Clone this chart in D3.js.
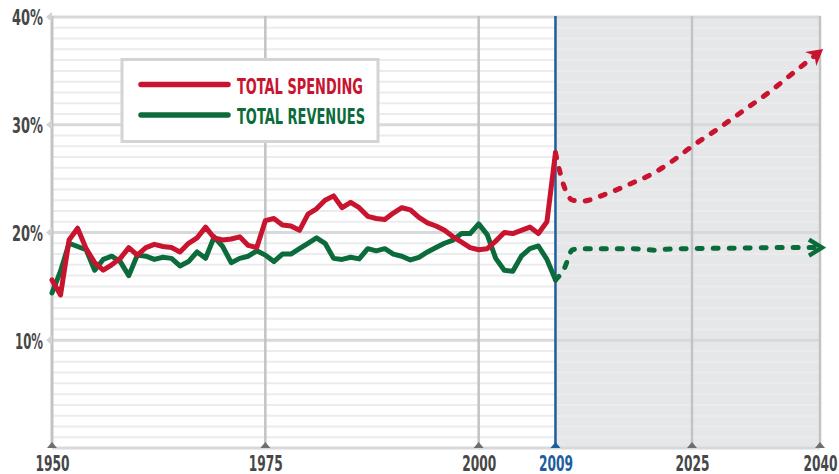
<!DOCTYPE html>
<html>
<head>
<meta charset="utf-8">
<script src="https://cdn.jsdelivr.net/npm/d3@7/dist/d3.min.js"></script>
<style>
  html, body { margin: 0; padding: 0; background: #fff; }
  svg { display: block; }
  text { font-family: "DejaVu Sans Condensed", "Liberation Sans Narrow", "Roboto", sans-serif; font-weight: bold; }
</style>
</head>
<body>
<svg id="chart" width="839" height="474"></svg>
<script>
// ---------------- DATA ----------------
const histYears = [1950,1951,1952,1953,1954,1955,1956,1957,1958,1959,
  1960,1961,1962,1963,1964,1965,1966,1967,1968,1969,
  1970,1971,1972,1973,1974,1975,1976,1977,1978,1979,
  1980,1981,1982,1983,1984,1985,1986,1987,1988,1989,
  1990,1991,1992,1993,1994,1995,1996,1997,1998,1999,
  2000,2001,2002,2003,2004,2005,2006,2007,2008,2009];
const spending = [15.6,14.2,19.3,20.4,18.5,17.2,16.5,17.0,17.6,18.6,
  17.9,18.6,18.9,18.7,18.6,18.2,19.0,19.5,20.5,19.5,
  19.3,19.4,19.6,18.8,18.6,21.1,21.3,20.7,20.6,20.2,
  21.7,22.2,23.0,23.4,22.3,22.8,22.3,21.5,21.3,21.2,
  21.8,22.3,22.1,21.4,20.9,20.6,20.2,19.6,19.1,18.6,
  18.4,18.5,19.2,20.0,19.9,20.2,20.5,19.9,21.0,27.4];
const revenues = [14.4,16.4,19.0,18.7,18.4,16.5,17.5,17.8,17.3,16.0,
  17.9,17.8,17.5,17.7,17.6,16.9,17.3,18.2,17.6,19.6,
  18.7,17.2,17.6,17.8,18.3,17.9,17.3,18.0,18.0,18.5,
  19.0,19.5,19.0,17.6,17.5,17.7,17.55,18.5,18.3,18.5,
  18.0,17.8,17.45,17.7,18.2,18.6,19.0,19.3,19.9,19.9,
  20.8,19.8,17.6,16.5,16.4,17.8,18.5,18.75,17.5,15.6];

const projSpendYears = [2009,2010,2011,2012,2015,2018,2020,2023,2025,2028,2031,2034,2037,2040];
const projSpending   = [27.4,24.3,23.0,22.9,23.6,24.6,25.3,26.8,28.0,29.6,31.3,33.0,34.9,36.8];
const projRevYears   = [2009,2010,2011,2012,2015,2018,2021,2022,2025,2030,2035,2040];
const projRevenues   = [15.6,16.6,18.4,18.5,18.5,18.5,18.35,18.45,18.5,18.55,18.6,18.6];

const yTicks = [10,20,30,40];
const xTicks = [1950,1975,2000,2009,2025,2040];
const minorTicks = [1,2,3,4,5,6,7,8,9,11,12,13,14,15,16,17,18,19,21,22,23,24,25,26,27,28,29,31,32,33,34,35,36,37,38,39];
const legendItems = ["TOTAL SPENDING","TOTAL REVENUES"];
const baseYear = 2009;

// ---------------- STYLE ----------------
const RED = "#c8142f", GREEN = "#0b6b3a", BLUE = "#1d5e9c";
const TXT = "#474747";

const svg = d3.select("#chart");
const x = d3.scaleLinear().domain([1950, 2040]).range([52, 820]);
const y = d3.scaleLinear().domain([0, 40]).range([448, 17]);

// shaded projection region
svg.append("rect")
  .attr("x", x(baseYear)).attr("y", y(40) - 1)
  .attr("width", x(2040) - x(baseYear)).attr("height", y(0) - y(40) + 1)
  .attr("fill", "#e6e7e9");

// minor horizontal grid
svg.append("g").selectAll("line").data(minorTicks).join("line")
  .attr("x1", x(1950)).attr("x2", x(2040))
  .attr("y1", d => y(d)).attr("y2", d => y(d))
  .attr("stroke", "#ececee").attr("stroke-width", 2);

// major horizontal grid
svg.append("g").selectAll("line").data([0].concat(yTicks)).join("line")
  .attr("x1", x(1950)).attr("x2", x(2040))
  .attr("y1", d => y(d)).attr("y2", d => y(d))
  .attr("stroke", "#d8d9db").attr("stroke-width", 3);

// vertical grid lines
svg.append("g").selectAll("line").data(xTicks.filter(d => d !== baseYear)).join("line")
  .attr("x1", d => x(d)).attr("x2", d => x(d))
  .attr("y1", y(40) - 1).attr("y2", y(0))
  .attr("stroke", "#c2c3c5").attr("stroke-width", d => d === 1950 ? 3 : 2.5);

// 2009 marker line
svg.append("line")
  .attr("x1", x(baseYear)).attr("x2", x(baseYear))
  .attr("y1", y(40) - 1).attr("y2", y(0))
  .attr("stroke", BLUE).attr("stroke-width", 2.5);

// y-axis labels
const yAxis = d3.axisLeft(y).tickValues(yTicks).tickFormat(d => d + "%").tickSize(0).tickPadding(9);
const gy = svg.append("g").attr("transform", `translate(${x(1950)},0)`).call(yAxis);
gy.select(".domain").remove();
gy.selectAll("text")
  .attr("fill", TXT).attr("font-size", 22).attr("dy", "0.36em")
  .style("font-family", null).style("font-weight", null)
  .attr("font-family", null)
  .attr("textLength", d => d === 10 ? 28 : 31).attr("lengthAdjust", "spacingAndGlyphs");
// y pointers
svg.append("g").selectAll("path").data(yTicks).join("path")
  .attr("d", d => `M${x(1950) - 6},${y(d)} L${x(1950)},${y(d) - 5} L${x(1950)},${y(d) + 5} Z`)
  .attr("fill", "#d2d3d5");

// x-axis labels
const xAxis = d3.axisBottom(x).tickValues(xTicks).tickFormat(d3.format("d")).tickSize(0).tickPadding(7);
const gx = svg.append("g").attr("transform", `translate(0,${y(0)})`).call(xAxis);
gx.select(".domain").remove();
gx.selectAll("text")
  .attr("fill", d => d === baseYear ? BLUE : TXT).attr("font-size", 22).attr("dy", "0.71em")
  .attr("font-family", null)
  .attr("textLength", 34).attr("lengthAdjust", "spacingAndGlyphs");
gy.attr("font-family", null); gx.attr("font-family", null);
// x pointers
svg.append("g").selectAll("path").data(xTicks).join("path")
  .attr("d", d => `M${x(d) - 5},${y(0)} L${x(d)},${y(0) - 6} L${x(d) + 5},${y(0)} Z`)
  .attr("fill", d => d === baseYear ? BLUE : "#6d6e70");

// arrow markers
const defs = svg.append("defs");
defs.append("marker").attr("id", "arrRed")
  .attr("markerUnits", "userSpaceOnUse").attr("orient", "auto")
  .attr("viewBox", "-14 -10 20 20").attr("markerWidth", 20).attr("markerHeight", 20)
  .attr("refX", 0).attr("refY", 0)
  .append("path").attr("d", "M-12,-9 L4,0 L-12,9 L-7,0 Z").attr("fill", RED);
defs.append("marker").attr("id", "arrGreen")
  .attr("markerUnits", "userSpaceOnUse").attr("orient", "auto")
  .attr("viewBox", "-16 -11 22 22").attr("markerWidth", 22).attr("markerHeight", 22)
  .attr("refX", 0).attr("refY", 0)
  .append("path").attr("d", "M-11,-8 L2,0 L-11,8").attr("fill", "none")
  .attr("stroke", GREEN).attr("stroke-width", 4.5).attr("stroke-linejoin", "miter");

// data lines
const line = d3.line().x(d => x(d[0])).y(d => y(d[1])).curve(d3.curveLinear);
const smooth = d3.line().x(d => x(d[0])).y(d => y(d[1])).curve(d3.curveMonotoneX);

svg.append("path").datum(histYears.map((yr, i) => [yr, revenues[i]]))
  .attr("d", line).attr("fill", "none").attr("stroke", GREEN)
  .attr("stroke-width", 5).attr("stroke-linejoin", "round").attr("stroke-linecap", "round");
svg.append("path").datum(histYears.map((yr, i) => [yr, spending[i]]))
  .attr("d", line).attr("fill", "none").attr("stroke", RED)
  .attr("stroke-width", 5).attr("stroke-linejoin", "round").attr("stroke-linecap", "round");

svg.append("path").datum(projRevYears.map((yr, i) => [yr, projRevenues[i]]))
  .attr("d", smooth).attr("fill", "none").attr("stroke", GREEN)
  .attr("stroke-width", 5).attr("stroke-linecap", "round").attr("stroke-dasharray", "5,11")
  .attr("marker-end", "url(#arrGreen)");
svg.append("path").datum(projSpendYears.map((yr, i) => [yr, projSpending[i]]))
  .attr("d", smooth).attr("fill", "none").attr("stroke", RED)
  .attr("stroke-width", 5).attr("stroke-linecap", "round").attr("stroke-dasharray", "5,11")
  .attr("marker-end", "url(#arrRed)");

// legend
const lg = svg.append("g");
lg.append("rect").attr("x", 122).attr("y", 59.5).attr("width", 256).attr("height", 82)
  .attr("fill", "#fff").attr("stroke", "#d3d4d6").attr("stroke-width", 3);
const lgColors = [RED, GREEN];
const lgRows = lg.selectAll("g.row").data(legendItems).join("g").attr("class", "row")
  .attr("transform", (d, i) => `translate(0,${i === 0 ? 84.5 : 115})`);
lgRows.append("line").attr("x1", 141).attr("x2", 228).attr("y1", 0).attr("y2", 0)
  .attr("stroke", (d, i) => lgColors[i]).attr("stroke-width", 5.5).attr("stroke-linecap", "round");
lgRows.append("text").attr("x", 237).attr("y", 9).text(d => d)
  .attr("fill", (d, i) => lgColors[i]).attr("font-size", 22)
  .attr("textLength", (d, i) => i === 0 ? 126 : 128).attr("lengthAdjust", "spacingAndGlyphs");
</script>
</body>
</html>
